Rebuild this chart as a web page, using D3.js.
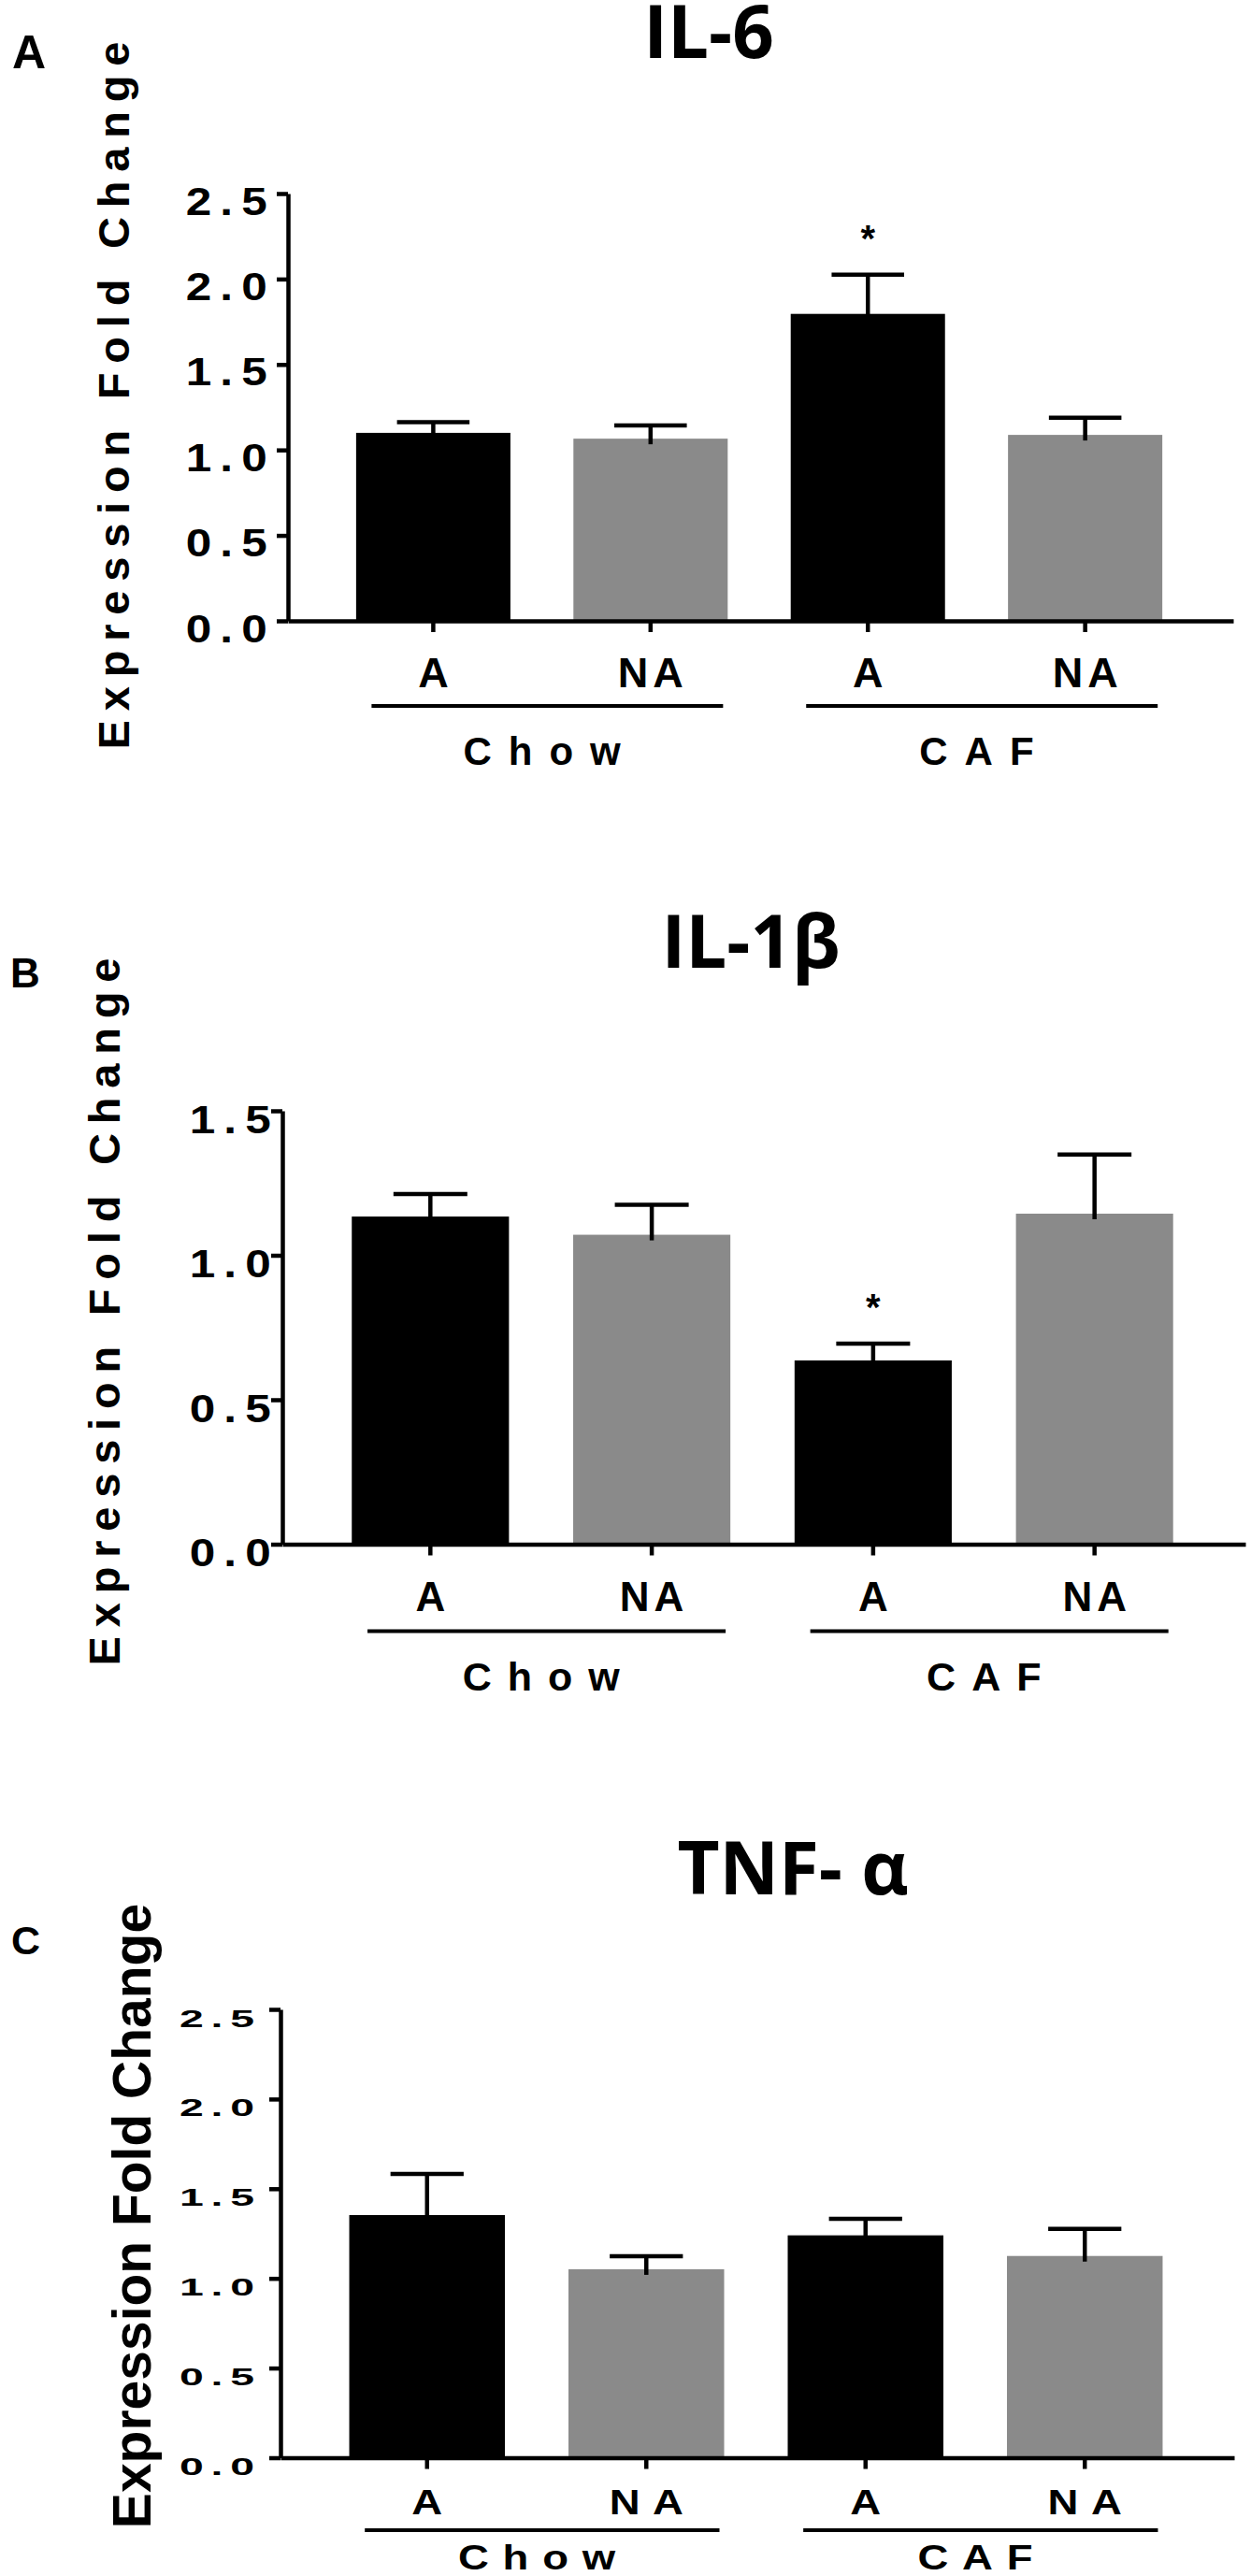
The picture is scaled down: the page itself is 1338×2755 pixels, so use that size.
<!DOCTYPE html>
<html>
<head>
<meta charset="utf-8">
<script src="https://cdn.jsdelivr.net/npm/d3@7"></script>
<style>
  body { margin: 0; background: #fff; }
  svg { display: block; }
</style>
</head>
<body>
<script>
// ---- data ----
var categories = ['A', 'NA', 'A', 'NA'];
var groups = ['Chow', 'CAF'];
var groupOf = [0, 0, 1, 1];

var il6Mean = [1.100, 1.066, 1.796, 1.088];
var il6Sem  = [0.063, 0.077, 0.229, 0.100];
var il6Sig  = [false, false, true, false];
var il6Ticks = [0, 0.5, 1.0, 1.5, 2.0, 2.5];

var il1bMean = [1.134, 1.071, 0.636, 1.144];
var il1bSem  = [0.078, 0.104, 0.058, 0.205];
var il1bSig  = [false, false, true, false];
var il1bTicks = [0, 0.5, 1.0, 1.5];

var tnfMean = [1.353, 1.051, 1.240, 1.125];
var tnfSem  = [0.229, 0.073, 0.092, 0.151];
var tnfSig  = [false, false, false, false];
var tnfTicks = [0, 0.5, 1.0, 1.5, 2.0, 2.5];

// ---- styles / layout ----
var FONT = "'Liberation Sans', Arial, Helvetica, sans-serif";
var TITLE_FONT = "'Open Sans', 'Noto Sans', sans-serif";
var barColors = ['#000000', '#8a8a8a', '#000000', '#8a8a8a'];
var LW = 4.5;

var panels = [
    {
        letter: 'A', title: 'IL-6', mean: il6Mean, sem: il6Sem, sig: il6Sig, ticks: il6Ticks,
        x0: 308, x1: 1319, y0: 664, y1: 207,
        titleX: 758, titleY: 62, letterX: 13, letterY: 73, letterSize: 50,
        tick: {fs: 43, ls: 8, sx: 1.15, dx: -13, dy: 22},
        cat: {fs: 45, ls: 5, sx: 1, dy: 71},
        grpLine: 91,
        grp: {fs: 42, ls: 18, sx: 1, dy: 154},
        ylab: {fs: 47, ls: 9.8, x: 138, y: 423}
    },
    {
        letter: 'B', title: 'IL-1\u03b2', mean: il1bMean, sem: il1bSem, sig: il1bSig, ticks: il1bTicks,
        x0: 302, x1: 1332, y0: 1651.5, y1: 1188,
        titleX: 803, titleY: 1035, letterX: 11, letterY: 1056, letterSize: 44,
        tick: {fs: 43, ls: 8, sx: 1.15, dx: -3, dy: 23},
        cat: {fs: 44, ls: 5, sx: 1, dy: 71},
        grpLine: 93,
        grp: {fs: 43, ls: 17, sx: 1, dy: 156},
        ylab: {fs: 47, ls: 9.8, x: 128, y: 1403}
    },
    {
        letter: 'C', title: 'TNF- \u03b1', mean: tnfMean, sem: tnfSem, sig: tnfSig, ticks: tnfTicks,
        x0: 300, x1: 1320, y0: 2628.5, y1: 2149,
        titleX: 848, titleY: 2026, letterX: 12, letterY: 2090, letterSize: 43,
        tick: {fs: 26.5, ls: 4.5, sx: 1.75, dx: -20, dy: 18},
        cat: {fs: 37, ls: 11, sx: 1.23, dy: 60},
        grpLine: 77.5,
        grp: {fs: 37, ls: 12, sx: 1.23, dy: 119},
        ylab: {fs: 57, ls: 0, x: 161, y: 2370}
    }
];

var svg = d3.select('body').append('svg')
    .attr('width', 1338)
    .attr('height', 2755);

function textStyle(sel, st) {
    sel.style('font-family', FONT)
        .style('font-weight', 'bold')
        .style('font-size', st.fs + 'px')
        .style('letter-spacing', st.ls + 'px')
        .attr('fill', '#000');
}

function drawPanel(p) {
    var g = svg.append('g').attr('class', 'panel-' + p.letter);

    var y = d3.scaleLinear()
        .domain([0, d3.max(p.ticks)])
        .range([p.y0, p.y1]);

    var x = d3.scaleBand()
        .domain(d3.range(categories.length))
        .range([p.x0, p.x1])
        .paddingInner(0.29)
        .paddingOuter(0.32)
        .align(0.49);

    var bw = x.bandwidth();
    var cx = function(i){ return x(i) + bw / 2; };
    var top = function(d, i){ return y(d + p.sem[i]); };

    // bars
    g.selectAll('rect.bar')
        .data(p.mean)
        .enter().append('rect')
        .attr('class', 'bar')
        .attr('x', function(d, i){ return x(i); })
        .attr('y', function(d){ return y(d); })
        .attr('width', bw)
        .attr('height', function(d){ return p.y0 - y(d); })
        .attr('fill', function(d, i){ return barColors[i]; });

    // error bars (upper only, stem dips a little into the bar)
    var err = g.selectAll('g.err')
        .data(p.mean)
        .enter().append('g')
        .attr('class', 'err')
        .attr('stroke', '#000')
        .attr('stroke-width', LW);

    err.append('line')
        .attr('x1', function(d, i){ return cx(i); })
        .attr('x2', function(d, i){ return cx(i); })
        .attr('y1', function(d){ return y(d) + 6; })
        .attr('y2', top);

    err.append('line')
        .attr('x1', function(d, i){ return cx(i) - bw * 0.235; })
        .attr('x2', function(d, i){ return cx(i) + bw * 0.235; })
        .attr('y1', top)
        .attr('y2', top);

    // significance stars
    var sigData = p.mean.map(function(d, i){ return {i: i, v: d + p.sem[i]}; })
        .filter(function(d){ return p.sig[d.i]; });

    g.selectAll('text.sig')
        .data(sigData)
        .enter().append('text')
        .attr('class', 'sig')
        .attr('x', function(d){ return cx(d.i); })
        .attr('y', function(d){ return y(d.v) - 47 + 22; })
        .attr('text-anchor', 'middle')
        .call(textStyle, {fs: 40, ls: 0})
        .text('*');

    // y axis
    var yAxis = g.append('g')
        .attr('class', 'y axis')
        .attr('transform', 'translate(' + p.x0 + ',0)')
        .call(d3.axisLeft(y)
            .tickValues(p.ticks)
            .tickSize(12)
            .tickSizeOuter(0)
            .tickFormat(d3.format('.1f')));

    yAxis.attr('font-family', null).attr('font-size', null);
    yAxis.select('.domain').attr('stroke-width', LW);
    yAxis.selectAll('.tick line').attr('stroke-width', LW);
    yAxis.selectAll('.tick text')
        .attr('x', null)
        .attr('dy', null)
        .attr('text-anchor', 'end')
        .attr('transform', 'translate(' + p.tick.dx + ',' + p.tick.dy + ') scale(' + p.tick.sx + ',1)')
        .call(textStyle, p.tick);

    // x axis
    var xAxis = g.append('g')
        .attr('class', 'x axis')
        .attr('transform', 'translate(0,' + p.y0 + ')')
        .call(d3.axisBottom(x)
            .tickSize(12)
            .tickSizeOuter(0)
            .tickFormat(function(i){ return categories[i]; }));

    xAxis.attr('font-family', null).attr('font-size', null);
    xAxis.select('.domain').attr('stroke-width', LW);
    xAxis.selectAll('.tick line').attr('stroke-width', LW);
    xAxis.selectAll('.tick text')
        .attr('y', null)
        .attr('dy', null)
        .attr('x', p.cat.ls / 2)
        .attr('text-anchor', 'middle')
        .attr('transform', 'translate(0,' + p.cat.dy + ') scale(' + p.cat.sx + ',1)')
        .call(textStyle, p.cat);

    // group underlines + names
    var grpData = groups.map(function(name, gi){
        var members = d3.range(categories.length).filter(function(i){ return groupOf[i] === gi; });
        var a = cx(members[0]), b = cx(members[members.length - 1]);
        return {name: name, left: a - bw * 0.4, right: b + bw * 0.47, mid: (a + b) / 2};
    });

    g.selectAll('line.grp')
        .data(grpData)
        .enter().append('line')
        .attr('class', 'grp')
        .attr('x1', function(d){ return d.left; })
        .attr('x2', function(d){ return d.right; })
        .attr('y1', p.y0 + p.grpLine)
        .attr('y2', p.y0 + p.grpLine)
        .attr('stroke', '#000')
        .attr('stroke-width', 4);

    g.selectAll('text.grp')
        .data(grpData)
        .enter().append('text')
        .attr('class', 'grp')
        .attr('transform', function(d){
            return 'translate(' + d.mid + ',' + (p.y0 + p.grp.dy) + ') scale(' + p.grp.sx + ',1)';
        })
        .attr('x', p.grp.ls / 2)
        .attr('text-anchor', 'middle')
        .call(textStyle, p.grp)
        .text(function(d){ return d.name; });

    // y label
    g.append('text')
        .attr('transform', 'translate(' + p.ylab.x + ',' + p.ylab.y + ') rotate(-90)')
        .attr('x', p.ylab.ls / 2)
        .attr('text-anchor', 'middle')
        .call(textStyle, p.ylab)
        .text('Expression Fold Change');

    // title
    g.append('text')
        .attr('x', p.titleX)
        .attr('y', p.titleY)
        .attr('text-anchor', 'middle')
        .style('font-family', TITLE_FONT)
        .style('font-weight', 'bold')
        .style('font-size', '78px')
        .text(p.title);

    // panel letter
    g.append('text')
        .attr('x', p.letterX)
        .attr('y', p.letterY)
        .call(textStyle, {fs: p.letterSize, ls: 0})
        .text(p.letter);
}

panels.forEach(drawPanel);
</script>
</body>
</html>
